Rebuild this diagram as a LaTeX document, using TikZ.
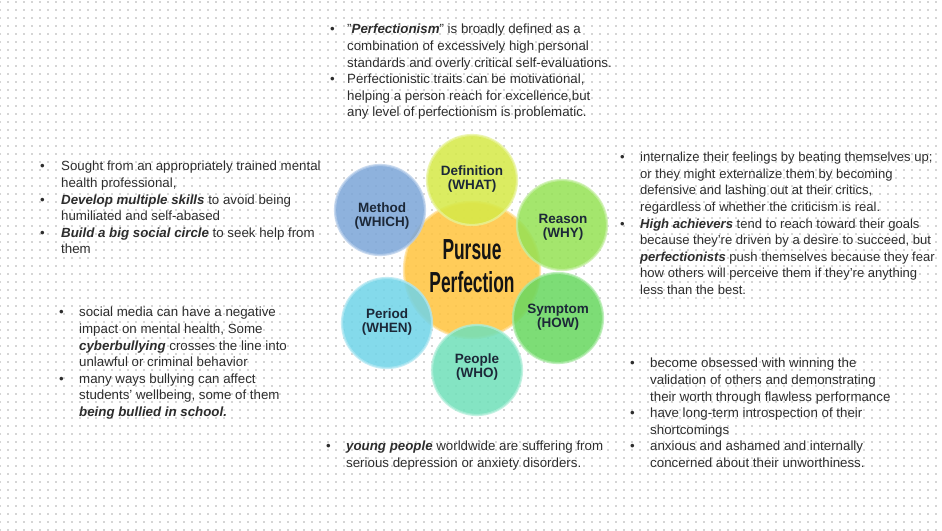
\documentclass[tikz,border=0pt]{standalone}
\usepackage{fontspec}
\setmainfont{Liberation Sans}
\usetikzlibrary{patterns.meta}
\definecolor{cCenter}{RGB}{255,196,62}
\definecolor{cDef}{RGB}{214,234,72}
\definecolor{cReason}{RGB}{150,226,86}
\definecolor{cSymptom}{RGB}{104,216,96}
\definecolor{cPeople}{RGB}{112,224,186}
\definecolor{cPeriod}{RGB}{112,212,232}
\definecolor{cMethod}{RGB}{124,166,216}
\definecolor{cLabel}{RGB}{28,40,56}
\definecolor{cText}{RGB}{45,45,45}
\newcommand\bl[1][20pt]{\llap{\makebox[#1][l]{\textbullet}}}
\newcommand\bi[1]{\textbf{\textit{#1}}}
\tikzset{
  bubble/.style={circle, minimum size=90pt, inner sep=0pt, fill=#1, fill opacity=0.86,
    draw=#1!55!white, draw opacity=0.75, line width=2.2pt},
  bublabel/.style={align=center, font=\fontsize{13.5}{14}\selectfont\bfseries, text=cLabel, inner sep=0pt},
  blk/.style={anchor=north west, inner sep=0pt, align=left,
    font=\fontsize{13.3}{16.6}\selectfont, text=cText},
}
\begin{document}
\begin{tikzpicture}[x=1pt,y=-1pt]
\useasboundingbox (0,0) rectangle (942,530);
\fill[white] (0,0) rectangle (942,530);
\fill[pattern={Dots[distance=8pt,radius=0.65pt]}, pattern color=black!70] (0,0) rectangle (942,530);

% circles
\node[bubble=cCenter, minimum size=136pt] (center) at (472,270) {};
\node[bubble=cDef] (def) at (472,180) {};
\node[bubble=cReason] (reason) at (562,225) {};
\node[bubble=cSymptom] (symptom) at (558,318) {};
\node[bubble=cPeople] (people) at (477,370) {};
\node[bubble=cPeriod] (period) at (387,323) {};
\node[bubble=cMethod] (method) at (380,210) {};

% labels
\node[inner sep=0pt, text=black!92, font=\fontsize{29}{32}\selectfont\bfseries] (title) at (472,270)
  {\begin{tabular}{@{}c@{}}\scalebox{0.6}[1]{Pursue}\\[1pt]\scalebox{0.6}[1]{Perfection}\end{tabular}};
\node[bublabel] (ldef) at (472,179) {Definition\\(WHAT)};
\node[bublabel] (lreason) at (563,227) {Reason\\(WHY)};
\node[bublabel] (lsymptom) at (558,317) {Symptom\\(HOW)};
\node[bublabel] (lpeople) at (477,367) {People\\(WHO)};
\node[bublabel] (lperiod) at (387,322) {Period\\(WHEN)};
\node[bublabel] (lmethod) at (382,216) {Method\\(WHICH)};

% text blocks
\node[blk] (tTop) at (347,24) {%
\bl[17pt]"\bi{Perfectionism}" is broadly defined as a\\
combination of excessively high personal\\
standards and overly critical self-evaluations.\\
\bl[17pt]Perfectionistic traits can be motivational,\\
helping a person reach for excellence,but\\
any level of perfectionism is problematic.};

\node[blk] (tLeftTop) at (61,161) {%
\bl[21pt]Sought from an appropriately trained mental\\
health professional,\\
\bl[21pt]\bi{Develop multiple skills} to avoid being\\
humiliated and self-abased\\
\bl[21pt]\bi{Build a big social circle} to seek help from\\
them};

\node[blk, font=\fontsize{13.05}{16.6}\selectfont] (tRightTop) at (640,152) {%
\bl internalize their feelings by beating themselves up;\\
or they might externalize them by becoming\\
defensive and lashing out at their critics,\\
regardless of whether the criticism is real.\\
\bl\bi{High achievers} tend to reach toward their goals\\
because they're driven by a desire to succeed, but\\
\bi{perfectionists} push themselves because they fear\\
how others will perceive them if they're anything\\
less than the best.};

\node[blk] (tLeftBot) at (79,307) {%
\bl social media can have a negative\\
impact on mental health, Some\\
\bi{cyberbullying} crosses the line into\\
unlawful or criminal behavior\\
\bl many ways bullying can affect\\
students' wellbeing, some of them\\
\bi{being bullied in school.}};

\node[blk] (tRightBot) at (650,358) {%
\bl become obsessed with winning the\\
validation of others and demonstrating\\
their worth through flawless performance\\
\bl have long-term introspection of their\\
shortcomings\\
\bl anxious and ashamed and internally\\
concerned about their unworthiness.};

\node[blk] (tBottom) at (346,441) {%
\bl\bi{young people} worldwide are suffering from\\
serious depression or anxiety disorders.};
\end{tikzpicture}
\end{document}
